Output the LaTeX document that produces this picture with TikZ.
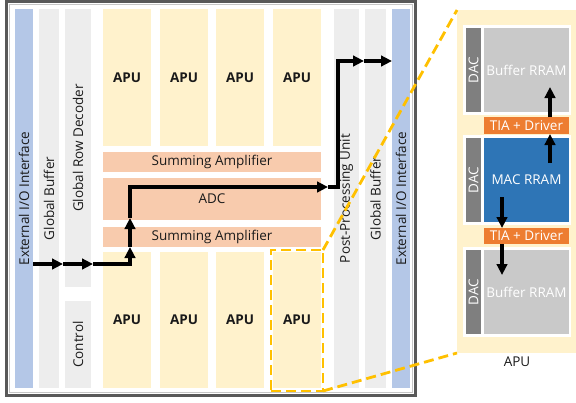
\documentclass[tikz,border=0pt]{standalone}
\usepackage{fontspec}
\setmainfont{Open Sans}
\usetikzlibrary{arrows.meta}
\definecolor{ioblue}{HTML}{B4C7E7}
\definecolor{lgray}{HTML}{EDEDED}
\definecolor{cream}{HTML}{FFF2CC}
\definecolor{salmon}{HTML}{F8CBAD}
\definecolor{gold}{HTML}{FFC000}
\definecolor{dacgray}{HTML}{7F7F7F}
\definecolor{bufgray}{HTML}{C9C9C9}
\definecolor{macblue}{HTML}{2E75B6}
\definecolor{tiaorange}{HTML}{ED7D31}
\definecolor{framegray}{HTML}{595959}
\definecolor{txt}{HTML}{1A1A1A}
\tikzset{
  blk/.style={inner sep=0pt, outer sep=0pt, draw=none, text=txt},
  vlab/.style={rotate=90, inner sep=0pt, text=txt},
  apu/.style={blk, fill=cream, minimum width=48pt, font=\fontsize{13.5}{16}\selectfont\bfseries},
  flow/.style={line width=3.3pt, -{Triangle[length=11pt,width=10.5pt]}},
  zoomline/.style={draw=gold, line width=2.8pt, dash pattern=on 10pt off 5pt},
  wtxt/.style={text=white}
}
\begin{document}
\begin{tikzpicture}[x=1pt,y=-1pt, font=\fontsize{13.5}{16}\selectfont]
\useasboundingbox (0,0) rectangle (576,402);
% frame
\draw[framegray, line width=3pt] (6.5,1.5) rectangle (415.5,395.5);
\draw[gray!45, line width=0.8pt] (9.8,4.5) rectangle (412.2,392.2);
% left columns
\node[blk, fill=ioblue, minimum width=18pt, minimum height=379pt] (ioL) at (24,198.5) {};
\node[vlab] (ioLt) at (ioL) {External I/O Interface};
\node[blk, fill=lgray, minimum width=20pt, minimum height=379pt] (gbL) at (49,198.5) {};
\node[vlab] (gbLt) at (gbL) {Global Buffer};
\node[blk, fill=lgray, minimum width=26pt, minimum height=278pt] (grd) at (78,148) {};
\node[vlab] (grdt) at (grd) {Global Row Decoder};
\node[blk, fill=lgray, minimum width=26pt, minimum height=87pt] (ctrl) at (78,344.5) {};
\node[vlab] (ctrlt) at (ctrl) {Control};
% APUs
\node[apu, minimum height=137pt] (a1) at (127,77.5) {APU};
\node[apu, minimum height=137pt] (a2) at (184,77.5) {APU};
\node[apu, minimum height=137pt] (a3) at (240,77.5) {APU};
\node[apu, minimum height=137pt] (a4) at (297,77.5) {APU};
\node[apu, minimum height=136pt] (b1) at (127,320) {APU};
\node[apu, minimum height=136pt] (b2) at (184,320) {APU};
\node[apu, minimum height=136pt] (b3) at (240,320) {APU};
\node[apu, minimum height=136pt] (b4) at (297,320) {APU};
% middle
\node[blk, fill=salmon, minimum width=218pt, minimum height=20pt] (sa1) at (212,162) {Summing Amplifier};
\node[blk, fill=salmon, minimum width=218pt, minimum height=42pt] (adc) at (212,199) {ADC};
\node[blk, fill=salmon, minimum width=218pt, minimum height=20pt] (sa2) at (212,237) {Summing Amplifier};
% right columns
\node[blk, fill=lgray, minimum width=25pt, minimum height=379pt] (ppu) at (346.5,198.5) {};
\node[vlab] (ppud) at (ppu) {Post-Processing Unit};
\node[blk, fill=lgray, minimum width=21pt, minimum height=379pt] (gbR) at (375.5,198.5) {};
\node[vlab] (gbRt) at (gbR) {Global Buffer};
\node[blk, fill=ioblue, minimum width=18pt, minimum height=379pt] (ioR) at (401,198.5) {};
\node[vlab] (ioRt) at (ioR) {External I/O Interface};
% main data flow
\coordinate (p0) at (ioL.east |- 0,264);
\coordinate (p1) at (63,264);
\coordinate (p2) at (93,264);
\coordinate (p3) at (130,247);
\coordinate (p4) at (130,218);
\coordinate (p5) at (328,187);
\coordinate (p6) at (364,61);
\coordinate (p7) at (ioR.west |- 0,61);
\draw[flow] (p0) -- (p1);
\draw[flow] (p1) -- (p2);
\draw[flow] (p2) -| (p3);
\draw[flow] (p3) -- (p4);
\draw[flow] (p4) |- (p5);
\draw[flow] (p5) -- (338,187) -- (338,61) -- (p6);
\draw[flow] (p6) -- (p7);
% zoom panel
\node[blk, fill=cream, minimum width=119pt, minimum height=343pt] (panel) at (516.5,181.5) {};
\node[blk, fill=white, minimum width=108pt, minimum height=90pt] (g1) at (517,70) {};
\node[blk, fill=white, minimum width=108pt, minimum height=90pt] (g2) at (517,180) {};
\node[blk, fill=white, minimum width=108pt, minimum height=90pt] (g3) at (517,292) {};
\node[blk, fill=dacgray, minimum width=15pt, minimum height=84pt] (d1) at (473.5,70) {};
\node[vlab, text=white] (d1t) at (d1) {DAC};
\node[blk, fill=dacgray, minimum width=15pt, minimum height=84pt] (d2) at (473.5,180) {};
\node[vlab, text=white] (d2t) at (d2) {DAC};
\node[blk, fill=dacgray, minimum width=15pt, minimum height=84pt] (d3) at (473.5,292) {};
\node[vlab, text=white] (d3t) at (d3) {DAC};
\node[blk, fill=bufgray, wtxt, minimum width=85pt, minimum height=84pt] (buf1) at (526.5,70) {Buffer RRAM};
\node[blk, fill=macblue, wtxt, minimum width=85pt, minimum height=84pt] (mac) at (526.5,180) {MAC RRAM};
\node[blk, fill=bufgray, wtxt, minimum width=85pt, minimum height=84pt] (buf2) at (526.5,292) {Buffer RRAM};
\node[blk, fill=tiaorange, wtxt, minimum width=85pt, minimum height=17pt] (tia1) at (526.5,125.5) {TIA + Driver};
\node[blk, fill=tiaorange, wtxt, minimum width=85pt, minimum height=16pt] (tia2) at (526.5,236) {TIA + Driver};
\node[inner sep=0pt, text=txt] (apulab) at (517,362) {APU};
% panel arrows
\coordinate (u0) at (550,163);
\coordinate (u1) at (550,87);
\coordinate (w0) at (502,197);
\coordinate (w1) at (502,275);
\draw[flow] (u0) -- (u0 |- tia1.south);
\draw[flow] (u0 |- tia1.north) -- (u1);
\draw[flow] (w0) -- (w0 |- tia2.north);
\draw[flow] (w0 |- tia2.south) -- (w1);
% zoom indicator
\node[zoomline, inner sep=0pt, outer sep=0pt, minimum width=52pt, minimum height=141pt] (zb) at (297,320.5) {};
\draw[zoomline] (zb.north east) -- (panel.north west);
\draw[zoomline] (zb.south east) -- (panel.south west);
\end{tikzpicture}
\end{document}
